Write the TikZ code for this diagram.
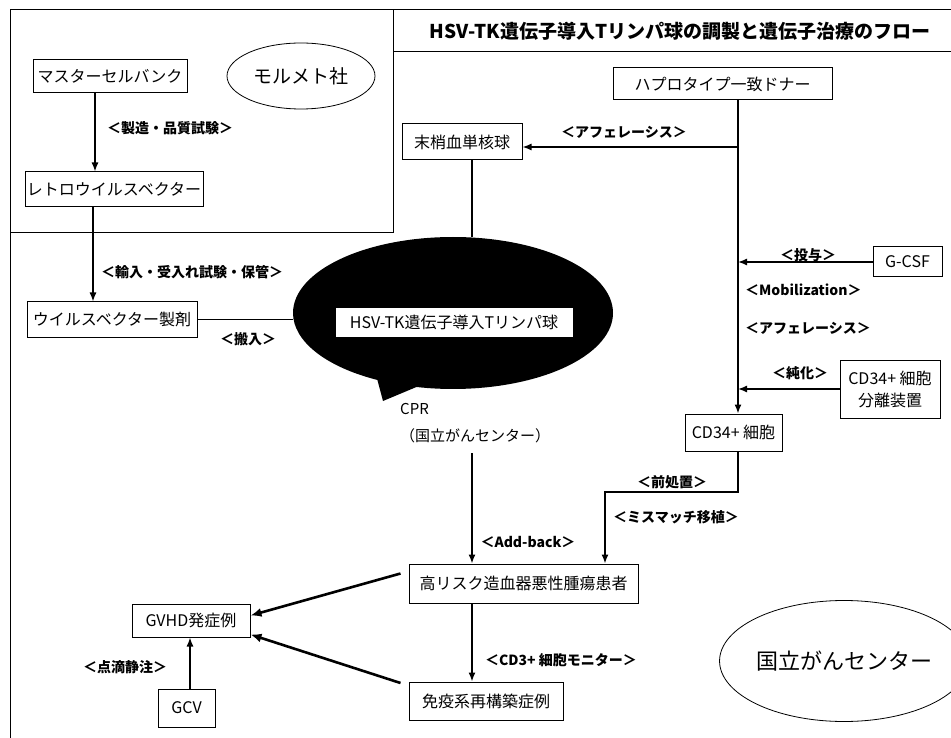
\documentclass[tikz,border=0pt]{standalone}
\usepackage{fontspec}
\setmainfont{Noto Sans CJK JP}
\usetikzlibrary{shapes.geometric,shapes.callouts,arrows.meta}
\begin{document}
\begin{tikzpicture}[x=1pt,y=-1pt,
  box/.style={draw, line width=1pt, fill=white, inner sep=0pt, font=\fontsize{16}{19}\selectfont},
  lbl/.style={font=\bfseries\fontsize{14}{16}\selectfont, inner sep=0pt},
  arr/.style={line width=1.4pt, -{Latex[length=9pt,width=7pt]}},
  ln/.style={line width=1.4pt},
  thk/.style={line width=2.6pt, -{Latex[length=11pt,width=9pt]}},
  oval/.style={draw, ellipse, line width=0.8pt, inner sep=0pt}]
\useasboundingbox (0,0) rectangle (951,738);
% frame
\draw[line width=1pt] (10,745) -- (10,10) -- (960,10);
\draw[line width=1pt] (10,233) -- (393,233) -- (393,10);
\draw[line width=1pt] (393,52) -- (960,52);
\node[font=\bfseries\fontsize{19}{22}\selectfont, inner sep=0pt] (title) at (680,31) {HSV-TK遺伝子導入Tリンパ球の調製と遺伝子治療のフロー};
% left company region
\node[box, minimum width=154pt, minimum height=33pt] (master) at (110,76.5) {マスターセルバンク};
\node[oval, minimum width=148pt, minimum height=66pt, font=\fontsize{19}{22}\selectfont] (morumeto) at (301,76) {モルメト社};
\node[box, minimum width=178pt, minimum height=35pt] (retro) at (114,189.5) {レトロウイルスベクター};
\node[box, minimum width=170pt, minimum height=35pt] (seizai) at (112,319.5) {ウイルスベクター製剤};
% blob
\node[ellipse callout, fill=black, minimum width=320pt, minimum height=152pt, callout absolute pointer={(383,401)}] (blob) at (453,313) {};
\node[box, minimum width=238pt, minimum height=30pt] (tcell) at (454,322) {HSV-TK遺伝子導入Tリンパ球};
\node[font=\fontsize{15}{27}\selectfont, align=left, anchor=west, inner sep=0pt] (cpr) at (400,423) {CPR\\（国立がんセンター）};
% right side
\node[box, minimum width=120pt, minimum height=36pt] (masho) at (462,142) {末梢血単核球};
\node[box, minimum width=219pt, minimum height=32pt] (haplo) at (722.5,84) {ハプロタイプ一致ドナー};
\node[box, minimum width=69pt, minimum height=30pt] (gcsf) at (907.5,262) {G-CSF};
\node[box, minimum width=100pt, minimum height=58pt, align=center, font=\fontsize{16}{22}\selectfont] (bunri) at (890,389) {CD34+ 細胞\\分離装置};
\node[box, minimum width=97pt, minimum height=37pt] (cd34) at (733.5,432.5) {CD34+ 細胞};
\node[box, minimum width=229pt, minimum height=39pt] (koriska) at (523.5,583.5) {高リスク造血器悪性腫瘍患者};
\node[box, minimum width=154pt, minimum height=38pt] (meneki) at (486,701) {免疫系再構築症例};
\node[box, minimum width=118pt, minimum height=33pt] (gvhd) at (191,620.5) {GVHD発症例};
\node[box, minimum width=57pt, minimum height=38pt] (gcv) at (186.5,708) {GCV};
\node[oval, minimum width=196pt, minimum height=121pt, font=\fontsize{22}{26}\selectfont] (kokuritsu) at (844,661) {国立がんセンター};
% labels
\node[lbl] (l1) at (170,128) {＜製造・品質試験＞};
\node[lbl] (l2) at (192,272) {＜輸入・受入れ試験・保管＞};
\node[lbl] (l3) at (248,339) {＜搬入＞};
\node[lbl] (l4) at (624,132) {＜アフェレーシス＞};
\node[lbl] (l5) at (808,255) {＜投与＞};
\node[lbl, anchor=west] (l6) at (745,290) {＜Mobilization＞};
\node[lbl, anchor=west] (l7) at (745,328) {＜アフェレーシス＞};
\node[lbl] (l8) at (800,373) {＜純化＞};
\node[lbl] (l9) at (672,482) {＜前処置＞};
\node[lbl] (l10) at (676,517) {＜ミスマッチ移植＞};
\node[lbl] (l11) at (528,542) {＜Add-back＞};
\node[lbl] (l12) at (561,660) {＜CD3+ 細胞モニター＞};
\node[lbl] (l13) at (125,667) {＜点滴静注＞};
% connectors
\draw[arr] ([xshift=-15pt]master.south) -- ([xshift=-19pt]retro.north);
\draw[arr] ([xshift=-21pt]retro.south) -- ([xshift=-19pt]seizai.north);
\draw[ln] (seizai.east) -- (blob.west |- seizai.east);
\coordinate (mb) at ([xshift=10pt]masho.south);
\draw[ln] (mb) -- (mb |- blob.north);
\coordinate (hs) at ([xshift=15.5pt]haplo.south);
\draw[arr] (hs) -- (hs |- cd34.north);
\coordinate (af) at (738,147);
\draw[arr] (af) -- (masho.east |- af);
\draw[arr] (gcsf.west) -- (hs |- gcsf.west);
\draw[arr] (bunri.west) -- (hs |- bunri.west);
\coordinate (mm) at (605,492);
\draw[arr] ([xshift=4.5pt]cd34.south) |- (mm) -- (mm |- koriska.north);
\coordinate (cprb) at (472,453);
\draw[arr] (cprb) -- (cprb |- koriska.north);
\draw[arr] (koriska.south -| cprb) -- (meneki.north -| cprb);
\draw[thk] ([xshift=-8pt,yshift=10pt]koriska.west) -- ([yshift=5pt]gvhd.east);
\draw[thk] ([xshift=-8pt,yshift=18pt]meneki.west) -- ([yshift=-14pt]gvhd.east);
\draw[arr] ([xshift=3.5pt]gcv.north) -- ([xshift=-1pt]gvhd.south);
\end{tikzpicture}
\end{document}
